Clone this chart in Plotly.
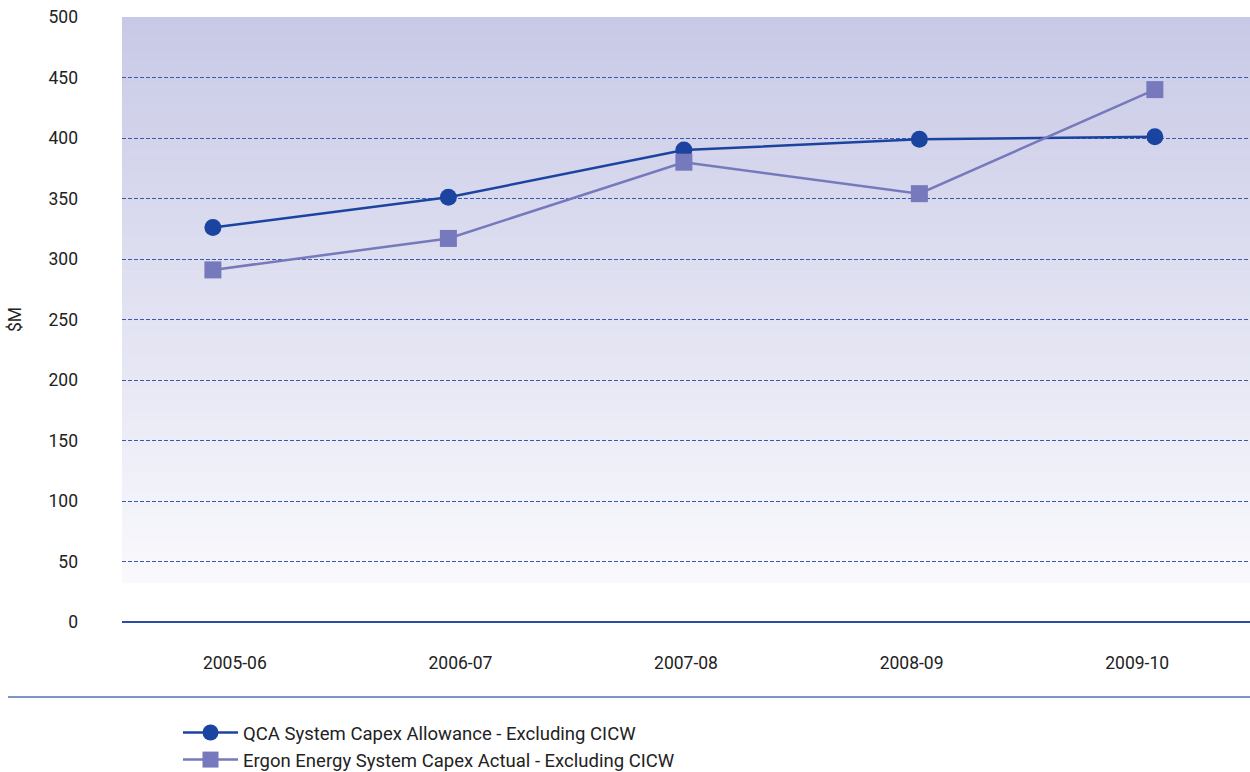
import plotly.graph_objects as go

categories = ["2005-06", "2006-07", "2007-08", "2008-09", "2009-10"]
qca_allowance = [326, 351, 390, 399, 401]
ergon_actual = [291, 317, 380, 354, 440]
y_ticks = [0, 50, 100, 150, 200, 250, 300, 350, 400, 450, 500]

FONT = "Roboto"
TXT = "#222222"
L, T, B = 122, 17, 150
PW, PH = 1250 - L, 772 - T - B

fig = go.Figure()
fig.add_trace(go.Scatter(
    x=list(range(len(categories))), y=qca_allowance, mode="lines+markers",
    name="QCA System Capex Allowance - Excluding CICW",
    line=dict(color="#1b44a0", width=2.5),
    marker=dict(symbol="circle", size=17, color="#1b44a0"),
))
fig.add_trace(go.Scatter(
    x=list(range(len(categories))), y=ergon_actual, mode="lines+markers",
    name="Ergon Energy System Capex Actual - Excluding CICW",
    line=dict(color="#7679bb", width=2.5),
    marker=dict(symbol="square", size=17, color="#7679bb"),
))
# carrier for the category tick labels axis
fig.add_trace(go.Scatter(
    x=categories, y=[None] * len(categories), xaxis="x2", mode="markers",
    showlegend=False, hoverinfo="skip",
))

# gradient background (top lavender -> white near bottom)
n = 120
top = (200, 201, 230)
bot = (249, 249, 253)
g0 = 32
shapes = []
for i in range(n):
    t = i / (n - 1)
    c = tuple(int(round(top[k] + (bot[k] - top[k]) * t)) for k in range(3))
    y1 = 500 - (500 - g0) * i / n
    y0 = 500 - (500 - g0) * (i + 1) / n
    shapes.append(dict(type="rect", xref="paper", yref="y", x0=0, x1=1, y0=y0, y1=y1 + 0.5,
                       fillcolor="rgb(%d,%d,%d)" % c, line=dict(width=0), layer="below"))
sep_y = (772 - B - 697) / PH
shapes.append(dict(type="line", xref="paper", yref="paper",
                   x0=(8 - L) / PW, x1=1, y0=sep_y, y1=sep_y,
                   line=dict(color="#5572b5", width=1.5)))
fig.update_layout(shapes=shapes)

fig.update_layout(
    width=1250, height=772,
    margin=dict(l=L, r=0, t=T, b=B, autoexpand=False),
    paper_bgcolor="white", plot_bgcolor="rgba(0,0,0,0)",
    font=dict(family=FONT, size=17.5, color=TXT),
    showlegend=True,
    legend=dict(x=(178 - L) / PW, y=1 - 714 / 772, yref="container",
                xanchor="left", yanchor="top",
                font=dict(family=FONT, size=18.5, color=TXT),
                bgcolor="rgba(0,0,0,0)", tracegroupgap=0, itemwidth=55),
    xaxis=dict(range=[-0.386, 4.404], showticklabels=False, showgrid=False,
               showline=False, zeroline=False, ticks=""),
    xaxis2=dict(overlaying="x", anchor="y", side="bottom", type="category",
                range=[-0.5, 4.5],
                showgrid=False, showline=False, zeroline=False, ticks="",
                ticklabelstandoff=28, tickfont=dict(family=FONT, size=17.5, color=TXT)),
)
fig.update_yaxes(
    range=[0, 500], tickvals=y_ticks, showgrid=True,
    gridcolor="#3a5ab0", gridwidth=1, griddash="4px,2px",
    zeroline=True, zerolinecolor="#2a4ea8", zerolinewidth=1.5,
    showline=False, ticks="", ticklabelstandoff=43,
    tickfont=dict(family=FONT, size=17.5, color=TXT),
    title=dict(text="$M", font=dict(family=FONT, size=17.5, color=TXT), standoff=22),
)

fig.write_html("out.html")
